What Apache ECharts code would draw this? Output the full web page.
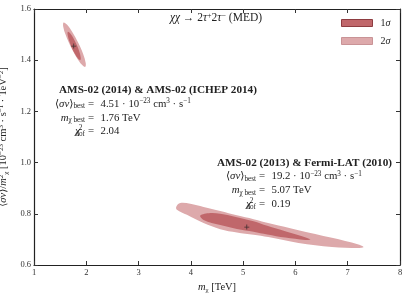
<!DOCTYPE html>
<html><head><meta charset="utf-8">
<script src="https://cdn.jsdelivr.net/npm/echarts@6/dist/echarts.min.js"></script>
<style>html,body{margin:0;padding:0;background:#fff}#c{width:407px;height:295px}</style>
</head><body><div id="c"></div>
<script>
const xTicks = [1, 2, 3, 4, 5, 6, 7, 8];
const yTicks = [0.6, 0.8, 1.0, 1.2, 1.4, 1.6];
const seriesNames = ['1σ', '2σ'];
// contour vertices [m_chi (TeV), <sv>/m^2]
const sigma2Small = [[1.981,1.374],[1.989,1.389],[1.940,1.424],[1.846,1.468],[1.732,1.510],[1.630,1.539],[1.566,1.547],[1.558,1.532],[1.607,1.498],[1.701,1.454],[1.815,1.411],[1.917,1.382]];
const sigma1Small = [[1.885,1.401],[1.894,1.410],[1.869,1.432],[1.817,1.460],[1.752,1.487],[1.691,1.505],[1.650,1.511],[1.642,1.501],[1.667,1.479],[1.719,1.451],[1.784,1.424],[1.845,1.406]];
const sigma2Large = [[3.721,0.828],[3.797,0.842],[3.989,0.839],[4.243,0.827],[4.562,0.811],[4.881,0.794],[5.199,0.779],[5.518,0.762],[6.059,0.736],[6.698,0.706],[7.206,0.680],[7.302,0.670],[7.206,0.666],[6.698,0.670],[6.059,0.686],[5.480,0.709],[5.199,0.718],[4.881,0.727],[4.562,0.740],[4.243,0.764],[3.925,0.796],[3.734,0.816]];
const sigma1Large = [[4.180,0.793],[4.371,0.803],[4.562,0.800],[4.881,0.787],[5.199,0.771],[5.461,0.753],[5.805,0.732],[6.283,0.701],[6.187,0.698],[5.805,0.707],[5.461,0.719],[5.199,0.730],[4.881,0.741],[4.562,0.756],[4.243,0.776]];
const bestFits = [[1.76,1.455],[5.07,0.748]];

const SERIF = '"Liberation Serif", "DejaVu Serif", serif';
const C1 = '#c0676b', C2 = '#dda9ab';
const chart = echarts.init(document.getElementById('c'), null, {renderer:'canvas'});

function polyRender(points){
  return function(params, api){
    if (params.dataIndex !== 0) return;
    return {type:'polygon', shape:{points: points.map(p => api.coord(p)), smooth:0.35}, style: api.style()};
  };
}
function contour(name, pts, color){
  return {type:'custom', name:name, data:pts, encode:{x:0,y:1}, renderItem: polyRender(pts),
    itemStyle:{color:color}, silent:true, animation:false, z:name==='1σ'?3:2};
}
const FS = 10.8, FSS = 7.2;
const rich = {
  n:{fontFamily:SERIF, fontSize:FS, color:'#222', lineHeight:12},
  i:{fontFamily:SERIF, fontSize:FS, fontStyle:'italic', color:'#222', lineHeight:12},
  sub:{fontFamily:SERIF, fontSize:FSS, color:'#222', lineHeight:5, verticalAlign:'bottom'},
  sup:{fontFamily:SERIF, fontSize:FSS, color:'#222', lineHeight:5, verticalAlign:'top'},
  tn:{fontFamily:SERIF, fontSize:11.5, color:'#222', lineHeight:12},
  ti:{fontFamily:SERIF, fontSize:11.5, fontStyle:'italic', color:'#222', lineHeight:12},
  tsup:{fontFamily:SERIF, fontSize:8, color:'#222', lineHeight:6, verticalAlign:'top'},
  an:{fontFamily:SERIF, fontSize:10.5, color:'#222', lineHeight:12},
  ai:{fontFamily:SERIF, fontSize:10.5, fontStyle:'italic', color:'#222', lineHeight:12},
  asub:{fontFamily:SERIF, fontSize:7, color:'#222', lineHeight:5, verticalAlign:'bottom'},
  asup:{fontFamily:SERIF, fontSize:7, color:'#222', lineHeight:5, verticalAlign:'top'},
  b:{fontFamily:SERIF, fontSize:11.2, fontWeight:'bold', color:'#111', lineHeight:13}
};
function txt(x, y, text, align){
  return {type:'text', x:x, y:y, silent:true, style:{text:text, rich:rich, fill:'#222', font:FS+'px '+SERIF, textAlign:align||'left', textVerticalAlign:'middle'}};
}
function block(hx, x0, yh, y1, head, sv, m, chi){
  const eq = x0 + 6, val = x0 + 15.5;
  const dy = 13.8;
  return [
    txt(hx, yh, '{b|' + head + '}', 'left'),
    txt(x0, y1, '{n|⟨}{i|σv}{n|⟩}{sub|best}', 'right'),
    txt(eq, y1, '{n|=}', 'center'),
    txt(val, y1, '{n|' + sv + ' · 10}{sup|−23}{n| cm}{sup|3}{n| · s}{sup|−1}', 'left'),
    txt(x0, y1 + dy, '{i|m}{sub|χ best}', 'right'),
    txt(eq, y1 + dy, '{n|=}', 'center'),
    txt(val, y1 + dy, '{n|' + m + ' TeV}', 'left'),
    txt(x0 - 5, y1 + 2*dy, '{i|χ}', 'right'),
    txt(x0 - 4.5, y1 + 2*dy - 4, '{sup|2}', 'center'),
    txt(x0, y1 + 2*dy + 4, '{sub|dof}', 'right'),
    txt(eq, y1 + 2*dy, '{n|=}', 'center'),
    txt(val, y1 + 2*dy, '{n|' + chi + '}', 'left')
  ];
}
const axCommon = {min:1, max:8, interval:1};
const option = {
  animation:false,
  backgroundColor:'#fff',
  grid:{left:34, top:9, width:366, height:256, containLabel:false, outerBoundsMode:'none'},
  xAxis:[
    Object.assign({type:'value', position:'bottom',
      axisLine:{show:true, lineStyle:{color:'#222', width:1.2}},
      axisTick:{show:true, inside:true, length:4, lineStyle:{color:'#333'}},
      axisLabel:{fontFamily:SERIF, fontSize:8.5, color:'#333', margin:3},
      splitLine:{show:false},
      name:'{ai|m}{asub|χ}{an| [TeV]}', nameLocation:'middle', nameGap:14,
      nameTextStyle:{rich:rich}}, axCommon),
    Object.assign({type:'value', position:'top',
      axisLine:{show:true, lineStyle:{color:'#222', width:1.2}},
      axisTick:{show:true, inside:true, length:4, lineStyle:{color:'#333'}},
      axisLabel:{show:false}, splitLine:{show:false}}, axCommon)
  ],
  yAxis:[
    {type:'value', min:0.6, max:1.6, interval:0.2, position:'left',
      axisLine:{show:true, lineStyle:{color:'#222', width:1.2}},
      axisTick:{show:true, inside:true, length:4, lineStyle:{color:'#333'}},
      axisLabel:{fontFamily:SERIF, fontSize:8.5, color:'#333', margin:3, formatter:v => v.toFixed(1)},
      splitLine:{show:false},
      name:'{an|⟨}{ai|σv}{an|⟩/}{ai|m}{asup|2}{asub|χ}{an| [10}{asup|−23}{an| cm}{asup|3}{an| · s}{asup|−1}{an| · TeV}{asup|−2}{an|]}',
      nameLocation:'middle', nameGap:20, nameRotate:90, nameTextStyle:{rich:rich}},
    {type:'value', min:0.6, max:1.6, interval:0.2, position:'right',
      axisLine:{show:true, lineStyle:{color:'#222', width:1.2}},
      axisTick:{show:true, inside:true, length:4, lineStyle:{color:'#333'}},
      axisLabel:{show:false}, splitLine:{show:false}}
  ],
  legend:{orient:'vertical', left:341, top:18, padding:0, itemWidth:31, itemHeight:7, itemGap:8, icon:'rect',
    selectedMode:false,
    formatter: n => n.charAt(0) + '{i|σ}',
    textStyle:{fontFamily:SERIF, fontSize:10, color:'#222', lineHeight:7, padding:[0,0,0,3],
      rich:{i:{fontFamily:SERIF, fontSize:10, fontStyle:'italic', color:'#222'}}},
    data:[
      {name:seriesNames[0], itemStyle:{color:C1, borderColor:'#8e3d41', borderWidth:1}},
      {name:seriesNames[1], itemStyle:{color:C2, borderColor:'#c99396', borderWidth:1}}
    ]},
  series:[
    contour(seriesNames[1], sigma2Large, C2),
    contour(seriesNames[1], sigma2Small, C2),
    contour(seriesNames[0], sigma1Large, C1),
    contour(seriesNames[0], sigma1Small, C1),
    {type:'scatter', data:bestFits, symbol:'path://M4.2,0h1.6v4.2h4.2v1.6h-4.2v4.2h-1.6v-4.2h-4.2v-1.6h4.2z',
      symbolSize:5, itemStyle:{color:'#222'}, silent:true, z:5}
  ],
  graphic:[
    txt(170, 18, '{ti|χχ} {tn|→ 2}{ti|τ}{tsup|+}{tn|2}{ti|τ}{tsup|−}{tn| (MED)}', 'left')
  ].concat(block(59, 85, 90, 104, 'AMS-02 (2014) & AMS-02 (ICHEP 2014)', '4.51', '1.76', '2.04'))
   .concat(block(217, 256, 162.7, 176.5, 'AMS-02 (2013) & Fermi-LAT (2010)', '19.2', '5.07', '0.19'))
};
chart.setOption(option);
</script>
</body></html>
